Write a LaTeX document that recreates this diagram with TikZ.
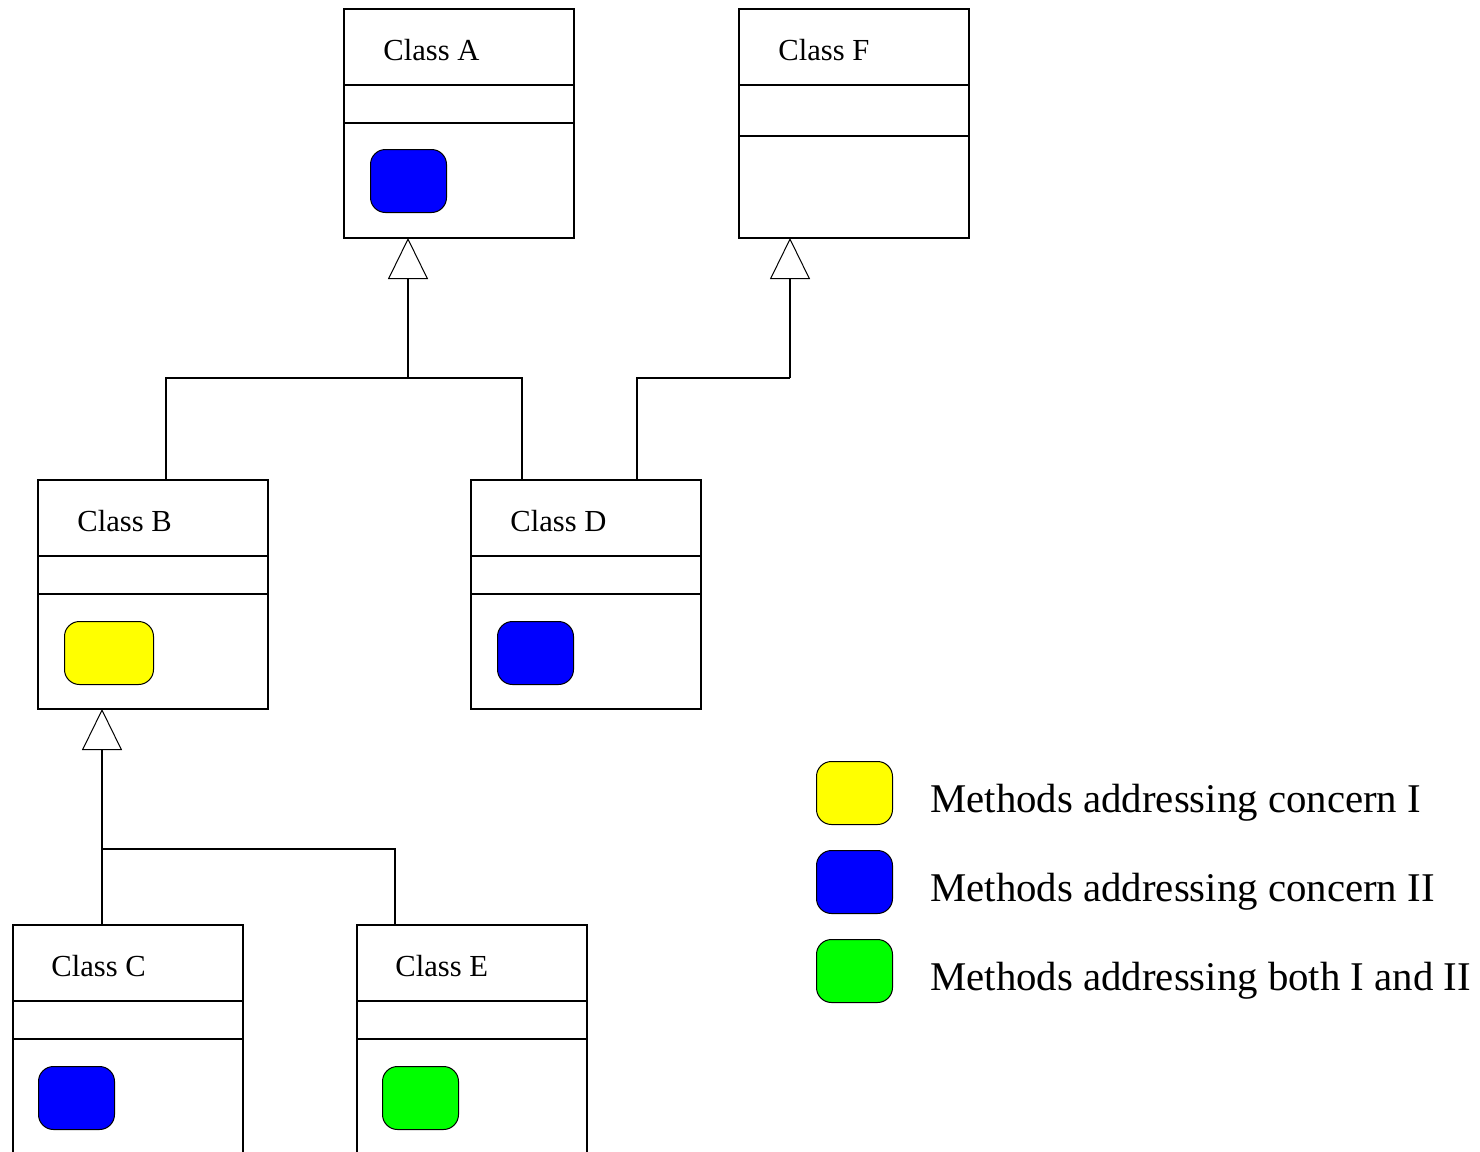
\documentclass[tikz,border=0pt]{standalone}
\usepackage{fontspec}
\setmainfont{Liberation Serif}
\usetikzlibrary{arrows.meta,calc}
\definecolor{mblue}{RGB}{0,0,255}
\definecolor{myellow}{RGB}{255,255,0}
\definecolor{mgreen}{RGB}{0,255,0}
\begin{document}
\begin{tikzpicture}[x=0.5pt,y=-0.5pt,
  classbox/.style={draw, line width=1.2pt, minimum width=115pt, minimum height=114.5pt, anchor=north west, inner sep=0pt, outer sep=0pt},
  method/.style={draw, line width=0.5pt, rounded corners=7.5pt, minimum width=38pt, minimum height=31.5pt, anchor=north west, inner sep=0pt},
  lbl/.style={anchor=base west, inner sep=0pt, font=\fontsize{15.3pt}{18pt}\selectfont},
  legtext/.style={anchor=base west, inner sep=0pt, font=\fontsize{20.4pt}{24pt}\selectfont},
  divider/.style={line width=1.2pt},
  conn/.style={line width=1.2pt},
  inh/.style={line width=1.2pt, -{Triangle[fill=white, length=20.5pt, width=20pt, line width=0.5pt]}}
]
\clip (0,0) rectangle (1480,1152);
% class boxes
\node[classbox] (A) at (344,9) {};
\node[classbox] (F) at (739,9) {};
\node[classbox] (B) at (38,480) {};
\node[classbox] (D) at (471,480) {};
\node[classbox] (C) at (13,925) {};
\node[classbox] (E) at (357,925) {};
% dividers
\foreach \n in {A,B,D,C,E}{
  \draw[divider] ($(\n.north west)+(0,76)$) -- ($(\n.north east)+(0,76)$);
  \draw[divider] ($(\n.north west)+(0,114)$) -- ($(\n.north east)+(0,114)$);
}
\draw[divider] ($(F.north west)+(0,76)$) -- ($(F.north east)+(0,76)$);
\draw[divider] ($(F.north west)+(0,127)$) -- ($(F.north east)+(0,127)$);
% labels
\node[lbl] (lA) at ($(A.north west)+(39,51)$) {Class A};
\node[lbl] (lF) at ($(F.north west)+(39,51)$) {Class F};
\node[lbl] (lB) at ($(B.north west)+(39,51)$) {Class B};
\node[lbl] (lD) at ($(D.north west)+(39,51)$) {Class D};
\node[lbl] (lC) at ($(C.north west)+(38,51)$) {Class C};
\node[lbl] (lE) at ($(E.north west)+(38,51)$) {Class E};
% methods
\node[method, fill=mblue] (mA) at ($(A.north west)+(26,140)$) {};
\node[method, fill=myellow, minimum width=44.5pt] (mB) at ($(B.north west)+(26,141)$) {};
\node[method, fill=mblue] (mD) at ($(D.north west)+(26,141)$) {};
\node[method, fill=mblue] (mC) at ($(C.north west)+(25,141)$) {};
\node[method, fill=mgreen] (mE) at ($(E.north west)+(25,141)$) {};
% connectors
\coordinate (jA) at (408,378);
\coordinate (jF) at (790,378);
\coordinate (jB) at (102,849);
\draw[conn] ($(B.north west)+(128,0)$) |- (jA);
\draw[conn] ($(D.north west)+(51,0)$) |- (jA);
\draw[inh] (jA) -- (A.south -| jA);
\draw[conn] ($(D.north west)+(166,0)$) |- (jF);
\draw[inh] (jF) -- (F.south -| jF);
\draw[conn] ($(E.north west)+(38,0)$) |- (jB);
\draw[inh] ($(C.north west)+(89,0)$) -- (B.south -| jB);
% legend
\node[method, fill=myellow] (k1) at (816,761) {};
\node[method, fill=mblue] (k2) at (816,850) {};
\node[method, fill=mgreen] (k3) at (816,939) {};
\node[legtext] (t1) at (930,812) {Methods addressing concern I};
\node[legtext] (t2) at (930,901) {Methods addressing concern II};
\node[legtext] (t3) at (930,990) {Methods addressing both I and II};
\end{tikzpicture}
\end{document}
